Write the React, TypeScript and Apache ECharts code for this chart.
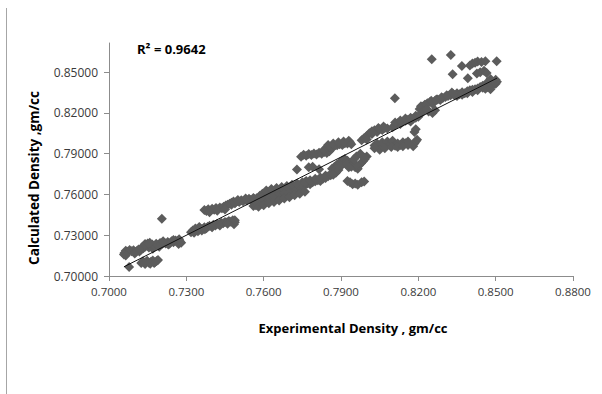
import React, { useEffect, useRef } from "react";
import * as echarts from "echarts";

// Experimental density (x) and calculated density (y)
const expDensity: number[] = [
  0.7060, 0.7065, 0.7072, 0.7080, 0.7088, 0.7095, 0.7103, 0.7110, 0.7118, 0.7125, 0.7133, 0.7140, 0.7148, 0.7155, 0.7163, 0.7170,
  0.7125, 0.7132, 0.7140, 0.7148, 0.7155, 0.7163, 0.7170, 0.7178, 0.7185,
  0.7078, 0.7205,
  0.7160, 0.7168, 0.7175, 0.7183, 0.7190, 0.7198, 0.7205, 0.7213, 0.7220, 0.7228, 0.7235, 0.7243, 0.7250, 0.7258, 0.7265, 0.7272, 0.7280,
  0.7318, 0.7325, 0.7333, 0.7340, 0.7348, 0.7355, 0.7363, 0.7370, 0.7378,
  0.7370, 0.7378, 0.7385, 0.7393, 0.7400, 0.7408, 0.7415, 0.7423, 0.7430, 0.7438, 0.7445, 0.7453, 0.7460, 0.7468, 0.7475, 0.7483,
  0.7383, 0.7390, 0.7398, 0.7405, 0.7413, 0.7420, 0.7428, 0.7435, 0.7443, 0.7450, 0.7458, 0.7465, 0.7473, 0.7480, 0.7488,
  0.7490, 0.7498, 0.7505, 0.7513, 0.7520, 0.7528, 0.7535, 0.7543, 0.7550, 0.7558, 0.7565, 0.7573, 0.7580,
  0.7560, 0.7570, 0.7580, 0.7590, 0.7600, 0.7610, 0.7620, 0.7630, 0.7640, 0.7650, 0.7660, 0.7670, 0.7680, 0.7690, 0.7700, 0.7710, 0.7720, 0.7730, 0.7740,
  0.7585, 0.7595, 0.7605, 0.7615, 0.7625, 0.7635, 0.7645, 0.7655, 0.7665, 0.7675, 0.7685, 0.7695, 0.7705, 0.7715, 0.7725, 0.7735, 0.7745,
  0.7600, 0.7620, 0.7640, 0.7660, 0.7680, 0.7700, 0.7720, 0.7740, 0.7755,
  0.7729,
  0.7745, 0.7755, 0.7765, 0.7775, 0.7785, 0.7795, 0.7805, 0.7815, 0.7825, 0.7835, 0.7845, 0.7855,
  0.7750, 0.7760, 0.7770, 0.7780, 0.7790, 0.7800, 0.7810, 0.7820, 0.7830, 0.7840, 0.7850, 0.7860, 0.7870,
  0.7775, 0.7790, 0.7815,
  0.7835, 0.7845, 0.7855, 0.7865, 0.7875, 0.7885, 0.7895, 0.7905, 0.7915, 0.7925, 0.7935,
  0.7865, 0.7875, 0.7885, 0.7895, 0.7905, 0.7915, 0.7925, 0.7935, 0.7945, 0.7955, 0.7965,
  0.7945, 0.7955, 0.7965, 0.7980, 0.7990,
  0.7970, 0.7978, 0.7985, 0.7992, 0.8000,
  0.7980, 0.7990, 0.8000, 0.8010, 0.8020, 0.8030, 0.8040, 0.8050, 0.8060, 0.8070, 0.8080,
  0.8030, 0.8040, 0.8050, 0.8060, 0.8070, 0.8080, 0.8090, 0.8100, 0.8110, 0.8120, 0.8130, 0.8140, 0.8150, 0.8160,
  0.8109,
  0.8100, 0.8110, 0.8120, 0.8130, 0.8140, 0.8150, 0.8160, 0.8170, 0.8180, 0.8190, 0.8200,
  0.8180, 0.8185, 0.8190, 0.8195, 0.8185, 0.8190,
  0.8205, 0.8215, 0.8225, 0.8235, 0.8245, 0.8255, 0.8265, 0.8275, 0.8285, 0.8295, 0.8305, 0.8315, 0.8325, 0.8335,
  0.8240, 0.8255, 0.8265,
  0.8340, 0.8350, 0.8360, 0.8370, 0.8380, 0.8390, 0.8400, 0.8410, 0.8420, 0.8430, 0.8440, 0.8450, 0.8460, 0.8470, 0.8480, 0.8490, 0.8500,
  0.8252, 0.8326, 0.8333, 0.8369, 0.8392, 0.8400, 0.8410, 0.8420, 0.8430, 0.8445, 0.8460, 0.8504, 0.8427, 0.8440, 0.8455, 0.8465, 0.8500, 0.8505, 0.8480, 0.8470,
  // thicker parts of the bands
  0.7058, 0.7065, 0.7100, 0.7140, 0.7150, 0.7158, 0.7130, 0.7115,
  0.7140, 0.7160, 0.7175, 0.7190,
  0.7195, 0.7230, 0.7270, 0.7275, 0.7210, 0.7250,
  0.7330, 0.7345, 0.7360, 0.7372, 0.7335, 0.7350,
  0.7390, 0.7420, 0.7450, 0.7475, 0.7488,
  0.7400, 0.7430, 0.7460, 0.7485, 0.7488,
  0.7500, 0.7530, 0.7560, 0.7590, 0.7570,
  0.7580, 0.7600, 0.7620, 0.7640, 0.7660, 0.7680, 0.7700, 0.7720, 0.7740, 0.7760, 0.7610, 0.7630, 0.7650, 0.7670, 0.7690, 0.7710, 0.7730, 0.7750, 0.7765,
  0.7760, 0.7780, 0.7800, 0.7820, 0.7840, 0.7860, 0.7880, 0.7890,
  0.7850, 0.7870, 0.7890, 0.7910, 0.7930, 0.7940,
  0.7880, 0.7900, 0.7920, 0.7940, 0.7960,
  0.8000, 0.8020, 0.8045, 0.8065,
  0.8050, 0.8070, 0.8095, 0.8120, 0.8140, 0.8160, 0.8030,
  0.8110, 0.8130, 0.8150, 0.8170, 0.8190, 0.8205,
  0.8210, 0.8230, 0.8250, 0.8270, 0.8290, 0.8310, 0.8330, 0.8220, 0.8235,
  0.8350, 0.8370, 0.8390, 0.8410, 0.8430, 0.8450, 0.8470, 0.8490, 0.8500, 0.8460, 0.8480,
  0.7930, 0.7950, 0.7960, 0.7975, 0.7990, 0.7880, 0.7870, 0.7925, 0.7935,
];

const calcDensity: number[] = [
  0.7170, 0.7185, 0.7178, 0.7192, 0.7183, 0.7190, 0.7176, 0.7188, 0.7180, 0.7195, 0.7205, 0.7215, 0.7222, 0.7210, 0.7228, 0.7200,
  0.7095, 0.7108, 0.7100, 0.7112, 0.7098, 0.7105, 0.7115, 0.7102, 0.7110,
  0.7067, 0.7421,
  0.7225, 0.7232, 0.7220, 0.7238, 0.7228, 0.7242, 0.7235, 0.7245, 0.7240, 0.7250, 0.7238, 0.7255, 0.7248, 0.7262, 0.7258, 0.7270, 0.7245,
  0.7322, 0.7335, 0.7328, 0.7342, 0.7338, 0.7350, 0.7345, 0.7358, 0.7352,
  0.7485, 0.7478, 0.7492, 0.7480, 0.7495, 0.7488, 0.7500, 0.7492, 0.7505, 0.7498, 0.7510, 0.7518, 0.7525, 0.7532, 0.7540, 0.7548,
  0.7362, 0.7370, 0.7365, 0.7378, 0.7372, 0.7385, 0.7380, 0.7392, 0.7388, 0.7398, 0.7395, 0.7405, 0.7400, 0.7410, 0.7395,
  0.7540, 0.7552, 0.7545, 0.7558, 0.7550, 0.7562, 0.7555, 0.7568, 0.7560, 0.7548, 0.7565, 0.7572, 0.7560,
  0.7515, 0.7520, 0.7528, 0.7532, 0.7540, 0.7545, 0.7552, 0.7558, 0.7562, 0.7570, 0.7575, 0.7580, 0.7588, 0.7592, 0.7600, 0.7605, 0.7612, 0.7618, 0.7625,
  0.7590, 0.7605, 0.7612, 0.7620, 0.7615, 0.7625, 0.7630, 0.7622, 0.7635, 0.7642, 0.7638, 0.7650, 0.7655, 0.7662, 0.7668, 0.7660, 0.7672,
  0.7565, 0.7580, 0.7595, 0.7605, 0.7615, 0.7630, 0.7640, 0.7652, 0.7660,
  0.7783,
  0.7878, 0.7892, 0.7885, 0.7898, 0.7890, 0.7902, 0.7895, 0.7908, 0.7900, 0.7912, 0.7905, 0.7918,
  0.7662, 0.7670, 0.7680, 0.7675, 0.7690, 0.7698, 0.7705, 0.7700, 0.7715, 0.7722, 0.7735, 0.7742, 0.7755,
  0.7800, 0.7805, 0.7785,
  0.7932, 0.7945, 0.7950, 0.7940, 0.7958, 0.7962, 0.7970, 0.7965, 0.7978, 0.7975, 0.7985,
  0.7790, 0.7805, 0.7820, 0.7835, 0.7850, 0.7862, 0.7848, 0.7830, 0.7815, 0.7800, 0.7790,
  0.7675, 0.7680, 0.7672, 0.7690, 0.7695,
  0.7815, 0.7830, 0.7845, 0.7860, 0.7880,
  0.8000, 0.8015, 0.8030, 0.8050, 0.8065, 0.8072, 0.8060, 0.8080, 0.8075, 0.8090, 0.8085,
  0.7960, 0.7975, 0.7948, 0.7985, 0.7962, 0.7990, 0.7970, 0.7995, 0.7958, 0.7975, 0.7965, 0.7985, 0.7978, 0.7990,
  0.8308,
  0.8095, 0.8110, 0.8125, 0.8118, 0.8135, 0.8142, 0.8150, 0.8138, 0.8158, 0.8165, 0.8172,
  0.7955, 0.7975, 0.7990, 0.8002, 0.8060, 0.8080,
  0.8230, 0.8245, 0.8260, 0.8272, 0.8280, 0.8268, 0.8290, 0.8300, 0.8295, 0.8310, 0.8318, 0.8325, 0.8330, 0.8340,
  0.8210, 0.8200, 0.8220,
  0.8330, 0.8345, 0.8338, 0.8352, 0.8345, 0.8360, 0.8368, 0.8355, 0.8375, 0.8380, 0.8392, 0.8385, 0.8400, 0.8410, 0.8395, 0.8420, 0.8415,
  0.8596, 0.8626, 0.8485, 0.8545, 0.8456, 0.8550, 0.8565, 0.8570, 0.8578, 0.8575, 0.8580, 0.8580, 0.8490, 0.8500, 0.8510, 0.8495, 0.8445, 0.8430, 0.8450, 0.8430,
  // thicker parts of the bands
  0.7158, 0.7150, 0.7165, 0.7235, 0.7240, 0.7245, 0.7215, 0.7195,
  0.7088, 0.7090, 0.7095, 0.7118,
  0.7215, 0.7232, 0.7235, 0.7255, 0.7255, 0.7265,
  0.7318, 0.7330, 0.7335, 0.7345, 0.7350, 0.7360,
  0.7470, 0.7480, 0.7490, 0.7525, 0.7535,
  0.7358, 0.7372, 0.7385, 0.7380, 0.7410,
  0.7560, 0.7570, 0.7575, 0.7580, 0.7545,
  0.7510, 0.7520, 0.7535, 0.7545, 0.7555, 0.7570, 0.7580, 0.7595, 0.7605, 0.7620, 0.7630, 0.7640, 0.7648, 0.7655, 0.7662, 0.7672, 0.7680, 0.7690, 0.7700,
  0.7690, 0.7705, 0.7715, 0.7725, 0.7740, 0.7750, 0.7765, 0.7780,
  0.7965, 0.7975, 0.7985, 0.7990, 0.7995, 0.7970,
  0.7790, 0.7810, 0.7825, 0.7805, 0.7815,
  0.8005, 0.8045, 0.8090, 0.8100,
  0.7930, 0.7940, 0.7950, 0.7950, 0.7955, 0.7965, 0.7940,
  0.8130, 0.8145, 0.8160, 0.8165, 0.8180, 0.8185,
  0.8250, 0.8260, 0.8290, 0.8300, 0.8315, 0.8330, 0.8350, 0.8215, 0.8225,
  0.8325, 0.8335, 0.8345, 0.8370, 0.8368, 0.8400, 0.8390, 0.8405, 0.8430, 0.8378, 0.8375,
  0.7800, 0.7860, 0.7880, 0.7900, 0.7870, 0.7760, 0.7745, 0.7700, 0.7690,
];

const xTicks: number[] = [0.70, 0.73, 0.76, 0.79, 0.82, 0.85, 0.88];
const yTicks: number[] = [0.70, 0.73, 0.76, 0.79, 0.82, 0.85];
const rSquaredText = "R² = 0.9642";
const xTitle = "Experimental Density , gm/cc";
const yTitle = "Calculated Density ,gm/cc";

function linearFit(xs: number[], ys: number[]) {
  const n = Math.min(xs.length, ys.length);
  let sx = 0, sy = 0, sxx = 0, sxy = 0;
  for (let i = 0; i < n; i++) {
    sx += xs[i]; sy += ys[i]; sxx += xs[i] * xs[i]; sxy += xs[i] * ys[i];
  }
  const slope = (n * sxy - sx * sy) / (n * sxx - sx * sx);
  const intercept = (sy - slope * sx) / n;
  return { slope, intercept };
}

export default function App() {
  const ref = useRef<HTMLDivElement>(null);
  useEffect(() => {
    if (!ref.current) return;
    const chart = echarts.init(ref.current, undefined, { renderer: "svg" });
    const n = Math.min(expDensity.length, calcDensity.length);
    const points = [] as number[][];
    for (let i = 0; i < n; i++) points.push([expDensity[i], calcDensity[i]]);
    const { slope, intercept } = linearFit(expDensity.slice(0, n), calcDensity.slice(0, n));
    const xMin = Math.min(...expDensity);
    const xMax = Math.max(...expDensity);
    const trend = [
      [xMin, slope * xMin + intercept],
      [xMax, slope * xMax + intercept],
    ];
    const labelFont = "'Open Sans', 'Noto Sans', sans-serif";
    chart.setOption({
      animation: false,
      backgroundColor: "#ffffff",
      grid: { left: 109, right: 29, top: 43, bottom: 118 },
      xAxis: {
        type: "value",
        min: 0.7,
        max: 0.88,
        interval: 0.03,
        splitLine: { show: false },
        axisLine: { lineStyle: { color: "#8c8c8c", width: 1 } },
        axisTick: { show: true, length: 5, inside: false, lineStyle: { color: "#8c8c8c" }, customValues: xTicks },
        axisLabel: {
          customValues: xTicks,
          formatter: (v: number) => v.toFixed(4),
          color: "#3a3a3a",
          fontSize: 11.5,
          fontFamily: labelFont,
          margin: 9,
        },
      },
      yAxis: {
        type: "value",
        min: 0.7,
        max: 0.8715,
        interval: 0.03,
        splitLine: { show: false },
        axisLine: { show: true, lineStyle: { color: "#8c8c8c", width: 1 } },
        axisTick: { show: true, length: 5, inside: false, lineStyle: { color: "#8c8c8c" }, customValues: yTicks },
        axisLabel: {
          customValues: yTicks,
          formatter: (v: number) => v.toFixed(5),
          color: "#3a3a3a",
          fontSize: 12,
          fontFamily: labelFont,
          margin: 11,
        },
      },
      series: [
        {
          type: "scatter",
          data: points,
          symbol: "diamond",
          symbolSize: 10,
          itemStyle: { color: "#5c5c5c", opacity: 1 },
          z: 2,
        },
        {
          type: "line",
          data: trend,
          symbol: "none",
          lineStyle: { color: "#111111", width: 1 },
          z: 3,
        },
      ],
      graphic: [
        {
          type: "line",
          shape: { x1: 6.5, y1: 8, x2: 6.5, y2: 394 },
          style: { stroke: "#a6a6a6", lineWidth: 1 },
        },
        {
          type: "text",
          x: 137,
          y: 42,
          style: {
            text: rSquaredText,
            font: "bold 13px 'Open Sans', 'Noto Sans', sans-serif",
            fill: "#000000",
          },
        },
        {
          type: "text",
          x: 353,
          y: 328,
          style: {
            text: xTitle,
            font: "bold 13px 'Open Sans', 'Noto Sans', sans-serif",
            fill: "#000000",
            align: "center",
            verticalAlign: "middle",
          },
        },
        {
          type: "text",
          x: 34,
          y: 178,
          rotation: Math.PI / 2,
          style: {
            text: yTitle,
            font: "bold 13.5px 'Open Sans', 'Noto Sans', sans-serif",
            fill: "#000000",
            align: "center",
            verticalAlign: "middle",
          },
        },
      ],
    });
    return () => chart.dispose();
  }, []);
  return (
    <div
      ref={ref}
      style={{ position: "fixed", left: 0, top: 0, width: 602, height: 394, background: "#fff" }}
    />
  );
}
